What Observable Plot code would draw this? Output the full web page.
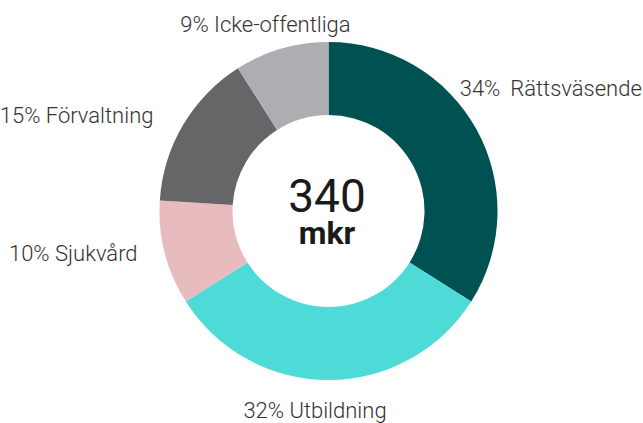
<!DOCTYPE html>
<html>
<head>
<meta charset="utf-8">
<script src="https://cdn.jsdelivr.net/npm/d3@7"></script>
<script src="https://cdn.jsdelivr.net/npm/@observablehq/plot@0.6"></script>
<style>
  html, body { margin: 0; padding: 0; background: #fff; }
  #chart svg { display: block; }
</style>
</head>
<body>
<div id="chart"></div>
<script>
// ---- data ----
const categories = ["Rättsväsende", "Utbildning", "Sjukvård", "Förvaltning", "Icke-offentliga"];
const shares = [34, 32, 10, 15, 9];
const shareLabels = ["34%\u2009 Rättsväsende", "32% Utbildning", "10% Sjukvård", "15% Förvaltning", "9% Icke-offentliga"];
const colors = ["#005252", "#4edbd8", "#e8bcbf", "#666668", "#aeaeb2"];
const totalValue = "340";
const totalUnit = "mkr";

// ---- layout ----
const W = 643, H = 423;
const CX = 328.5, CY = 211;      // donut centre in px
const R = 169, R0 = 96;          // outer / inner radius in px
const LABEL_R = 1.2 * R;
// small manual layout nudges (px) for the labels
const nudge = {
  "Rättsväsende": [-47, -18],
  "Utbildning": [-14, 4],
  "Sjukvård": [5, -1],
  "Förvaltning": [-1, 15],
  "Icke-offentliga": [-7, 15]
};

const rows = categories.map((c, i) => ({category: c, share: shares[i], label: shareLabels[i], color: colors[i]}));
const arcs = d3.pie().sort(null).value(d => d.share)(rows);

const labels = arcs.map(a => {
  const mid = (a.startAngle + a.endAngle) / 2;
  const s = Math.sin(mid), c = Math.cos(mid);
  const [nx, ny] = nudge[a.data.category];
  return {
    text: a.data.label,
    x: LABEL_R * s + nx,
    y: LABEL_R * c - ny,
    anchor: Math.abs(s) < 0.35 ? "middle" : (s > 0 ? "start" : "end")
  };
});

function donut(index, scales) {
  const {x, y} = scales;
  const k = (x(1) - x(0));
  const arc = d3.arc().innerRadius(R0 * k).outerRadius(R * k);
  const g = d3.create("svg:g").attr("transform", `translate(${x(0)},${y(0)})`);
  g.selectAll("path")
    .data(arcs)
    .join("path")
    .attr("d", arc)
    .attr("fill", d => d.data.color);
  return g.node();
}

const labelStyle = {fontSize: 22, fontWeight: 300, fill: "#333", lineAnchor: "bottom"};

const chart = Plot.plot({
  width: W,
  height: H,
  margin: 0,
  x: {domain: [-CX, W - CX], range: [0, W], axis: null},
  y: {domain: [-(H - CY), CY], range: [H, 0], axis: null},
  style: {fontFamily: "Roboto, 'Noto Sans', sans-serif", background: "#fff", overflow: "visible"},
  marks: [
    donut,
    Plot.text(labels, {filter: d => d.anchor === "start", x: "x", y: "y", text: "text", textAnchor: "start", ...labelStyle}),
    Plot.text(labels, {filter: d => d.anchor === "middle", x: "x", y: "y", text: "text", textAnchor: "middle", ...labelStyle}),
    Plot.text(labels, {filter: d => d.anchor === "end", x: "x", y: "y", text: "text", textAnchor: "end", ...labelStyle}),
    Plot.text([totalValue], {x: 0, y: 0, dx: -2, dy: 0, text: d => d, textAnchor: "middle", lineAnchor: "bottom", fontSize: 46, fontWeight: 400, fill: "#1a1a1a", letterSpacing: "-2px"}),
    Plot.text([totalUnit], {x: 0, y: 0, dx: -2, dy: 32, text: d => d, textAnchor: "middle", lineAnchor: "bottom", fontSize: 32, fontWeight: 700, fill: "#1a1a1a", letterSpacing: "0.5px"})
  ]
});

document.getElementById("chart").append(chart);
</script>
</body>
</html>
